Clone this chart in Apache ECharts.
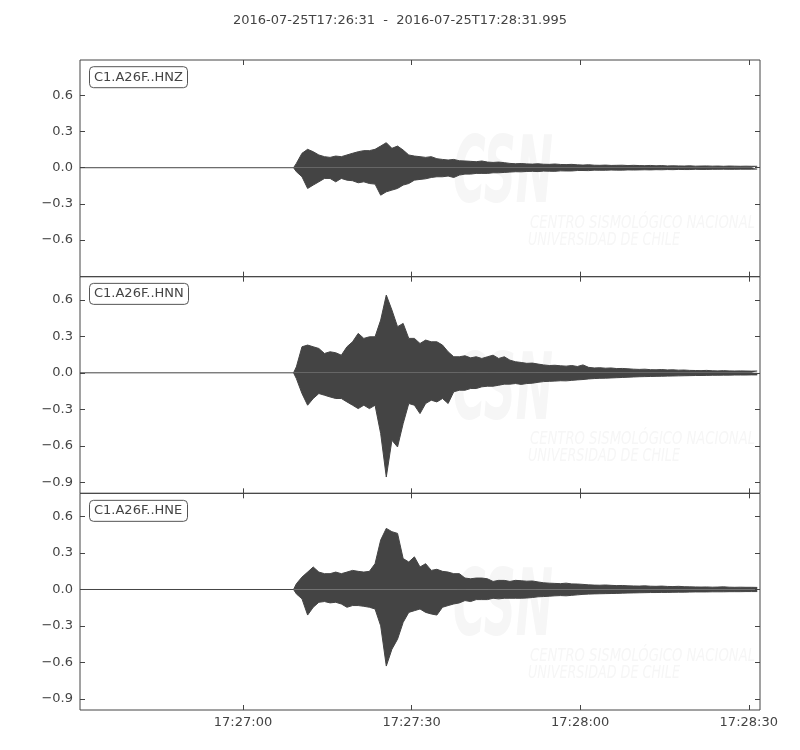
<!DOCTYPE html>
<html>
<head>
<meta charset="utf-8">
<script src="https://cdn.jsdelivr.net/npm/echarts@6/dist/echarts.min.js"></script>
<style>html,body{margin:0;padding:0;background:#fff}#chart{width:800px;height:750px}</style>
</head>
<body>
<div id="chart"></div>
<script>
// ---- data (seconds after 2016-07-25T17:26:31) ----
const mainTitle = '2016-07-25T17:26:31  -  2016-07-25T17:28:31.995';
const channelNames = ['C1.A26F..HNZ', 'C1.A26F..HNN', 'C1.A26F..HNE'];
const recordSec = 120.995;
const onsetSec = 38;      // first envelope bin starts here
const binSec = 1;         // envelope bin width
const baseline = 0;       // pre-event level

const timeTickSec = [29, 59, 89, 119];
const timeTickLabels = ['17:27:00', '17:27:30', '17:28:00', '17:28:30'];

const hnzRange = [-0.905, 0.895];
const hnnRange = [-0.99, 0.79];
const hneRange = [-0.99, 0.79];
const hnzTicks = [-0.6, -0.3, 0, 0.3, 0.6];
const hnnTicks = [-0.9, -0.6, -0.3, 0, 0.3, 0.6];
const hneTicks = [-0.9, -0.6, -0.3, 0, 0.3, 0.6];

// per-second max / min of each trace (envelope), from onsetSec
const hnzUpper = [
  0.036,0.120,0.153,0.133,0.106,0.092,0.086,0.097,0.092,0.106,
  0.120,0.133,0.142,0.142,0.153,0.180,0.208,0.161,0.180,0.147,
  0.106,0.097,0.092,0.086,0.092,0.075,0.069,0.064,0.069,0.058,
  0.056,0.053,0.050,0.056,0.047,0.044,0.047,0.042,0.036,0.033,
  0.035,0.032,0.030,0.033,0.029,0.028,0.031,0.027,0.026,0.028,
  0.024,0.022,0.025,0.021,0.020,0.022,0.019,0.020,0.021,0.018,
  0.020,0.018,0.017,0.019,0.016,0.018,0.015,0.016,0.015,0.014,
  0.016,0.013,0.014,0.015,0.013,0.014,0.012,0.014,0.013,0.012,
  0.013,0.012,0.012
];
const hnzLower = [
  -0.033,-0.075,-0.172,-0.144,-0.117,-0.089,-0.089,-0.117,-0.089,-0.103,
  -0.108,-0.125,-0.117,-0.131,-0.136,-0.228,-0.200,-0.186,-0.172,-0.144,
  -0.131,-0.103,-0.097,-0.092,-0.081,-0.075,-0.075,-0.069,-0.081,-0.061,
  -0.053,-0.053,-0.047,-0.047,-0.047,-0.042,-0.042,-0.039,-0.036,-0.033,
  -0.034,-0.031,-0.030,-0.032,-0.028,-0.029,-0.030,-0.026,-0.027,-0.027,
  -0.023,-0.023,-0.024,-0.020,-0.021,-0.021,-0.019,-0.020,-0.020,-0.018,
  -0.019,-0.018,-0.017,-0.018,-0.016,-0.017,-0.015,-0.016,-0.014,-0.015,
  -0.015,-0.013,-0.014,-0.014,-0.013,-0.013,-0.012,-0.013,-0.013,-0.012,
  -0.012,-0.012,-0.011
];
const hnnUpper = [
  0.049,0.214,0.228,0.214,0.200,0.159,0.173,0.165,0.145,0.214,
  0.255,0.324,0.283,0.296,0.296,0.433,0.639,0.516,0.379,0.406,
  0.283,0.283,0.241,0.269,0.255,0.255,0.228,0.173,0.132,0.132,
  0.140,0.123,0.132,0.118,0.132,0.145,0.118,0.132,0.104,0.091,
  0.085,0.078,0.080,0.072,0.065,0.060,0.062,0.058,0.055,0.060,
  0.052,0.065,0.045,0.040,0.042,0.038,0.040,0.035,0.036,0.033,
  0.030,0.028,0.030,0.026,0.025,0.027,0.024,0.025,0.022,0.023,
  0.020,0.019,0.018,0.020,0.017,0.016,0.018,0.016,0.015,0.016,
  0.015,0.014,0.015
];
const hnnLower = [
  -0.047,-0.170,-0.266,-0.211,-0.170,-0.184,-0.198,-0.211,-0.211,-0.239,
  -0.266,-0.294,-0.266,-0.294,-0.266,-0.499,-0.856,-0.554,-0.609,-0.417,
  -0.252,-0.266,-0.335,-0.252,-0.225,-0.239,-0.211,-0.252,-0.156,-0.143,
  -0.143,-0.129,-0.129,-0.115,-0.110,-0.110,-0.102,-0.093,-0.093,-0.088,
  -0.095,-0.088,-0.085,-0.078,-0.072,-0.070,-0.068,-0.065,-0.066,-0.062,
  -0.058,-0.055,-0.050,-0.047,-0.045,-0.044,-0.042,-0.040,-0.038,-0.036,
  -0.034,-0.032,-0.031,-0.030,-0.029,-0.028,-0.027,-0.026,-0.025,-0.024,
  -0.023,-0.022,-0.022,-0.021,-0.020,-0.020,-0.019,-0.019,-0.018,-0.018,
  -0.018,-0.017,-0.017
];
const hneUpper = [
  0.047,0.102,0.143,0.185,0.143,0.130,0.130,0.143,0.130,0.143,
  0.157,0.149,0.143,0.149,0.212,0.406,0.502,0.475,0.461,0.254,
  0.226,0.268,0.185,0.212,0.157,0.166,0.149,0.143,0.130,0.130,
  0.094,0.088,0.094,0.094,0.088,0.066,0.075,0.075,0.066,0.075,
  0.072,0.068,0.070,0.062,0.055,0.052,0.050,0.048,0.052,0.046,
  0.045,0.042,0.038,0.036,0.035,0.037,0.034,0.032,0.033,0.030,
  0.029,0.028,0.030,0.027,0.026,0.028,0.025,0.024,0.026,0.023,
  0.022,0.021,0.020,0.021,0.019,0.020,0.022,0.019,0.018,0.019,
  0.018,0.018,0.017
];
const hneLower = [
  -0.036,-0.077,-0.210,-0.146,-0.105,-0.099,-0.110,-0.105,-0.119,-0.146,
  -0.132,-0.132,-0.138,-0.146,-0.160,-0.298,-0.629,-0.491,-0.408,-0.270,
  -0.188,-0.174,-0.160,-0.188,-0.201,-0.210,-0.146,-0.132,-0.119,-0.110,
  -0.091,-0.099,-0.083,-0.083,-0.083,-0.072,-0.077,-0.072,-0.072,-0.072,
  -0.072,-0.070,-0.066,-0.060,-0.058,-0.055,-0.052,-0.050,-0.052,-0.048,
  -0.044,-0.040,-0.038,-0.036,-0.035,-0.034,-0.033,-0.032,-0.030,-0.029,
  -0.028,-0.027,-0.026,-0.025,-0.025,-0.024,-0.024,-0.023,-0.022,-0.022,
  -0.021,-0.020,-0.020,-0.020,-0.019,-0.019,-0.019,-0.018,-0.018,-0.018,
  -0.017,-0.017,-0.017
];

const watermarkLines = ['CENTRO SISMOLÓGICO NACIONAL', 'UNIVERSIDAD DE CHILE'];
const watermarkLogo = 'CSN';

// ---- chart ----
const INK = '#444444';
const FONT = '"DejaVu Sans", sans-serif';
const panels = [
  { name: channelNames[0], range: hnzRange, ticks: hnzTicks, up: hnzUpper, lo: hnzLower },
  { name: channelNames[1], range: hnnRange, ticks: hnnTicks, up: hnnUpper, lo: hnnLower },
  { name: channelNames[2], range: hneRange, ticks: hneTicks, up: hneUpper, lo: hneLower }
];

// one side of the envelope: flat pre-event baseline, then one point per bin centre
function envelopeData(vals, withBaseline) {
  const pts = withBaseline ? [[0, baseline], [onsetSec, baseline]] : [[onsetSec, baseline]];
  vals.forEach((v, i) => pts.push([onsetSec + (i + 0.5) * binSec, v]));
  return pts;
}

const plotLeft = 80, plotWidth = 680, plotTop = 60, panelH = 650 / 3;

const measureCtx = document.createElement('canvas').getContext('2d');
function textWidth(text, font) { measureCtx.font = font; return measureCtx.measureText(text).width; }

const grid = [], xAxis = [], yAxis = [], series = [], title = [], graphic = [];
title.push({
  text: mainTitle, left: 'center', top: 13, padding: 0,
  textStyle: { fontSize: 13, fontWeight: 'normal', color: INK, fontFamily: FONT, lineHeight: 16 }
});

const timeFmt = v => {
  const k = timeTickSec.findIndex(t => Math.abs(t - v) < 1e-6);
  return k >= 0 ? timeTickLabels[k] : '';
};
const ampFmt = v => (v < -1e-9 ? '\u2212' : '') + Math.abs(v).toFixed(1);

const wmColor = '#f6f6f6';
const logoFont = 'italic bold 92px "DejaVu Sans Condensed", "DejaVu Sans", sans-serif';
const wmFont = 'italic 18px "DejaVu Sans Condensed", "DejaVu Sans", sans-serif';
const logoScale = 100 / textWidth(watermarkLogo, logoFont);
const lineScale = [225 / textWidth(watermarkLines[0], wmFont), 152 / textWidth(watermarkLines[1], wmFont)];

panels.forEach((p, i) => {
  const top = plotTop + i * panelH;
  grid.push({ left: plotLeft, top: top, width: plotWidth, height: panelH,
    show: true, borderColor: INK, borderWidth: 1, backgroundColor: 'transparent' });
  ['bottom', 'top'].forEach(pos => {
    xAxis.push({
      gridIndex: i, type: 'value', position: pos, min: 0, max: recordSec,
      axisLine: { show: false, onZero: false },
      splitLine: { show: false },
      axisTick: { show: true, inside: true, length: 5, customValues: timeTickSec, lineStyle: { color: INK } },
      axisLabel: { show: pos === 'bottom' && i === 2, customValues: timeTickSec, formatter: timeFmt,
        color: INK, fontSize: 13, fontFamily: FONT, margin: 6 }
    });
  });
  ['left', 'right'].forEach(pos => {
    yAxis.push({
      gridIndex: i, type: 'value', position: pos, min: p.range[0], max: p.range[1],
      axisLine: { show: false, onZero: false },
      splitLine: { show: false },
      axisTick: { show: true, inside: true, length: 5, customValues: p.ticks, lineStyle: { color: INK } },
      axisLabel: { show: pos === 'left', customValues: p.ticks, formatter: ampFmt,
        color: INK, fontSize: 13, fontFamily: FONT, margin: 7 }
    });
  });
  [[p.up, true], [p.lo, false]].forEach(([vals, withBase]) => {
    series.push({
      type: 'line', xAxisIndex: 2 * i, yAxisIndex: 2 * i,
      data: envelopeData(vals, withBase), symbol: 'none', silent: true, clip: true, z: 3,
      lineStyle: { color: INK, width: 1 },
      areaStyle: { color: INK, opacity: 1, origin: 'auto' },
      animation: false
    });
  });
  title.push({
    text: p.name, left: plotLeft + 9, top: top + 6.2 + (i === 2 ? 0.3 : 0),
    padding: [3, 5], borderColor: '#555555', borderWidth: 1, borderRadius: 4,
    backgroundColor: '#ffffff',
    textStyle: { fontSize: 13, fontWeight: 'normal', color: INK, fontFamily: FONT, lineHeight: 16 }
  });
  // faint institutional watermark
  graphic.push({ type: 'text', x: 453, y: top + 72, scaleX: logoScale, z: 0, silent: true,
    style: { text: watermarkLogo, fill: wmColor, font: logoFont } });
  graphic.push({ type: 'text', x: 530, y: top + 154, scaleX: lineScale[0], z: 0, silent: true,
    style: { text: watermarkLines[0], fill: wmColor, font: wmFont } });
  graphic.push({ type: 'text', x: 528, y: top + 171, scaleX: lineScale[1], z: 0, silent: true,
    style: { text: watermarkLines[1], fill: wmColor, font: wmFont } });
});

const chart = echarts.init(document.getElementById('chart'), null, { renderer: 'canvas' });
chart.setOption({
  backgroundColor: '#ffffff',
  animation: false,
  title, grid, xAxis, yAxis, series, graphic
});
</script>
</body>
</html>
